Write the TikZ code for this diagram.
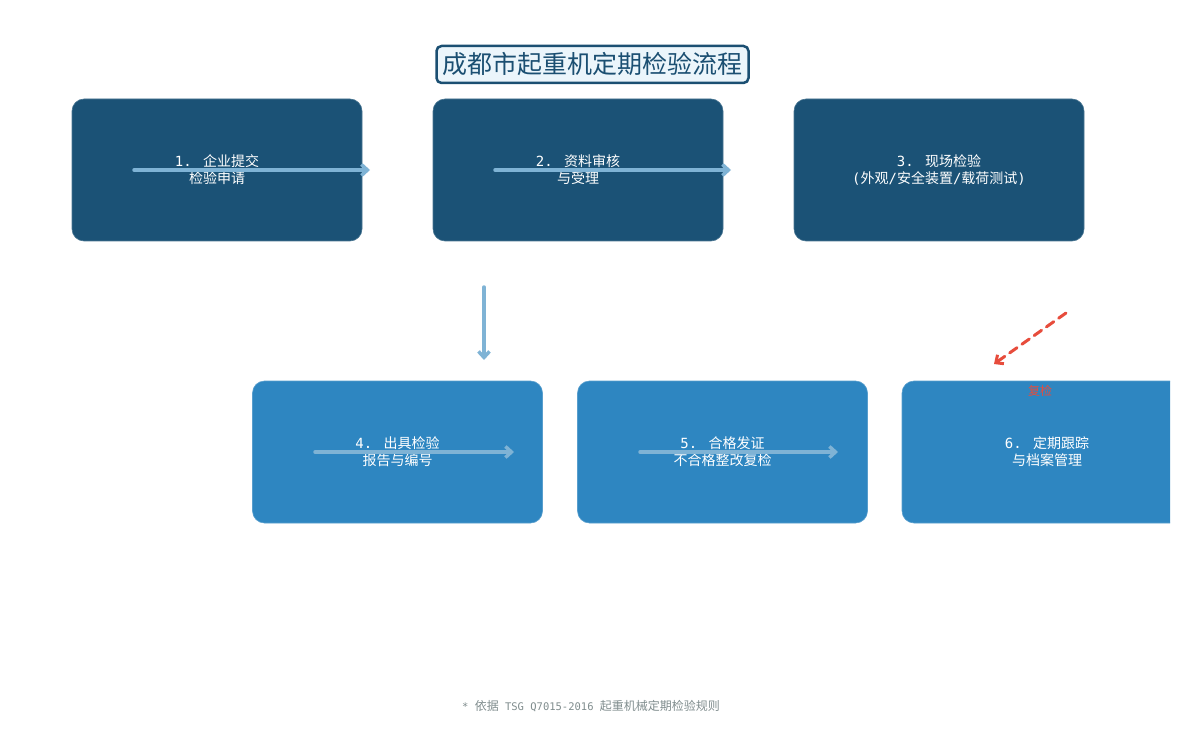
\documentclass[tikz,border=0pt]{standalone}
\usepackage{fontspec}
\usepackage{xcolor}
\usepackage{tikz}
\usetikzlibrary{arrows.meta}
\newfontfamily\cjk{Noto Sans CJK SC}
\newfontfamily\mono{DejaVu Sans Mono}
\definecolor{deep}{HTML}{1b5276}
\definecolor{light}{HTML}{2e86c1}
\definecolor{flow}{HTML}{7fb3d5}
\definecolor{recheck}{HTML}{e74c3c}
\definecolor{titlebg}{HTML}{ebf5fb}
\definecolor{titleline}{HTML}{1b4f72}
\definecolor{note}{HTML}{7f8c8d}

\begin{document}
\begin{tikzpicture}[x=1pt,y=-1pt,
  every node/.style={font=\cjk\fontsize{14}{17}\selectfont\color{white}, align=center},
  stepbox/.style={rectangle, rounded corners=12pt, minimum width=290pt, minimum height=142pt, inner sep=0pt, draw=#1!80!white, fill=#1, line width=0.6pt},
  flowline/.style={draw=flow, line width=3.5pt, line cap=round, -{Straight Barb[length=6pt,width=11pt]}}]
  \useasboundingbox (0,0) rectangle (1185,735);
  % Title
  \node[draw=titleline, fill=titlebg, line width=2.5pt, rounded corners=5pt, minimum width=312pt, minimum height=37pt,
        font=\cjk\fontsize{25}{28}\selectfont\color{titleline}] (title) at (592.5,64.5) {成都市起重机定期检验流程};
  % Upper row
  \node[stepbox=deep] (s1) at (217,170) {{\mono 1. }企业提交\\检验申请};
  \coordinate (a1) at (134,170); \coordinate (b1) at (370,170);
  \draw[flowline] (a1) -- (b1);
  \node[stepbox=deep] (s2) at (578,170) {{\mono 2. }资料审核\\与受理};
  \coordinate (a2) at (495,170); \coordinate (b2) at (731,170);
  \draw[flowline] (a2) -- (b2);
  \node[stepbox=deep] (s3) at (939,170) {{\mono 3. }现场检验\\{\mono(}外观{\mono/}安全装置{\mono/}载荷测试{\mono)}};
  % Down
  \coordinate (a3) at (484,287); \coordinate (b3) at (484,360);
  \draw[flowline] (a3) -- (b3);
  % Lower row
  \node[stepbox=light] (s4) at (397.5,452) {{\mono 4. }出具检验\\报告与编号};
  \coordinate (a4) at (315,452); \coordinate (b4) at (514,452);
  \draw[flowline] (a4) -- (b4);
  \node[stepbox=light] (s5) at (722.5,452) {{\mono 5. }合格发证\\不合格整改复检};
  \coordinate (a5) at (640,452); \coordinate (b5) at (838,452);
  \draw[flowline] (a5) -- (b5);
  \begin{scope}
    \clip (0,0) rectangle (1170,735);
    \node[stepbox=light] (s6) at (1047,452) {{\mono 6. }定期跟踪\\与档案管理};
  \end{scope}
  % Recheck
  \coordinate (r1) at (1066,313); \coordinate (r2) at (994,364);
  \draw[recheck, line width=3pt, line cap=round, dash pattern=on 9pt off 6pt, -{Straight Barb[length=6pt,width=11pt]}] (r1) -- (r2);
  \node[font=\cjk\fontsize{12}{14}\selectfont\color{recheck}] (rlabel) at (1040,391) {复检};
  % Footer
  \node[font=\cjk\fontsize{12}{14}\selectfont\color{note}] (foot) at (591,706) {{\mono\fontsize{10.5}{14}\selectfont * }依据{\mono\fontsize{10.5}{14}\selectfont\ TSG Q7015-2016 }起重机械定期检验规则};
\end{tikzpicture}
\end{document}
